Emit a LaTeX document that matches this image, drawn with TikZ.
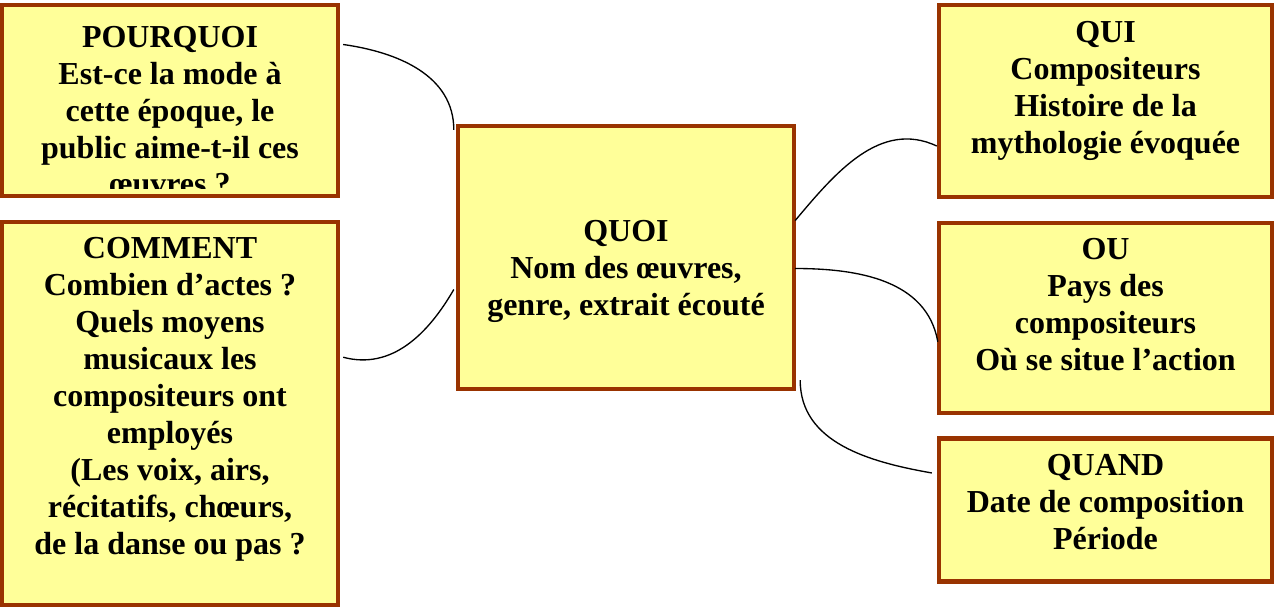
\documentclass[tikz,border=0pt]{standalone}
\usepackage{fontspec}
\setmainfont{Liberation Serif}
\usetikzlibrary{positioning}
\definecolor{jaune}{HTML}{FFFF99}
\definecolor{brun}{HTML}{993300}
\tikzset{
  boite/.style={rectangle, draw=brun, fill=jaune, line width=3.3pt},
  texte/.style={anchor=north, inner sep=0pt, yshift=-#1, align=center,
    font=\fontsize{24}{27.7}\selectfont\bfseries},
  texte/.default=13.5pt,
  lien/.style={line width=1pt}
}
\begin{document}
\begin{tikzpicture}[x=0.75pt, y=-0.75pt, node distance=16pt]
      \useasboundingbox (0,0) rectangle (1274,607);
      \node (pourquoi) [boite, minimum width=252pt, minimum height=143.25pt,
        path picture={\clip ([yshift=6pt]path picture bounding box.south west)
            rectangle (path picture bounding box.north east);
          \node [texte=6pt] at (path picture bounding box.north)
          {POURQUOI\\Est-ce la mode à\\cette époque, le\\public aime-t-il ces\\œuvres ?};}]
        at (170,100.5) {};
      \node (comment) [boite, minimum width=252pt, minimum height=287.25pt, below=16pt of pourquoi,
        label={[texte]north:COMMENT\\Combien d’actes ?\\Quels moyens\\musicaux les\\compositeurs ont\\employés\\(Les voix, airs,\\récitatifs, chœurs,\\de la danse ou pas ?}] {};
      \node (quoi) [boite, minimum width=252pt, minimum height=197.25pt, at={(626,257.5)},
        label={[texte=72pt]north:QUOI\\Nom des œuvres,\\genre, extrait écouté}] {};
      \node (qui) [boite, minimum width=249.75pt, minimum height=144pt, at={(1105.5,101)},
        label={[texte]north:QUI\\Compositeurs\\Histoire de la\\mythologie évoquée}] {};
      \node (ou) [boite, minimum width=249.75pt, minimum height=142.5pt, below=of qui,
        label={[texte]north:OU\\Pays des\\compositeurs\\Où se situe l’action}] {};
      \node (quand) [boite, minimum width=249.75pt, minimum height=107.25pt, below=of ou,
        label={[texte]north:QUAND\\Date de composition\\Période}] {};
      \draw [lien] ([shift={(3,-56)}]pourquoi.east) to[out=-8, in=90] ([shift={(-2,6)}]quoi.north west);
      \draw [lien] ([shift={(3,-56)}]comment.east) to[out=-15, in=-120] ([shift={(-2,32)}]quoi.west);
      \draw [lien] ([shift={(-1,-37)}]quoi.east) to[out=50, in=155] ([shift={(0,45)}]qui.west);
      \draw [lien] ([shift={(-1,11)}]quoi.east) to[out=0, in=100] ([shift={(1,24)}]ou.west);
      \draw [lien] ([shift={(4,-11)}]quoi.south east) to[out=-90, in=170] ([shift={(-5,-37)}]quand.west);
  \end{tikzpicture}
\end{document}
